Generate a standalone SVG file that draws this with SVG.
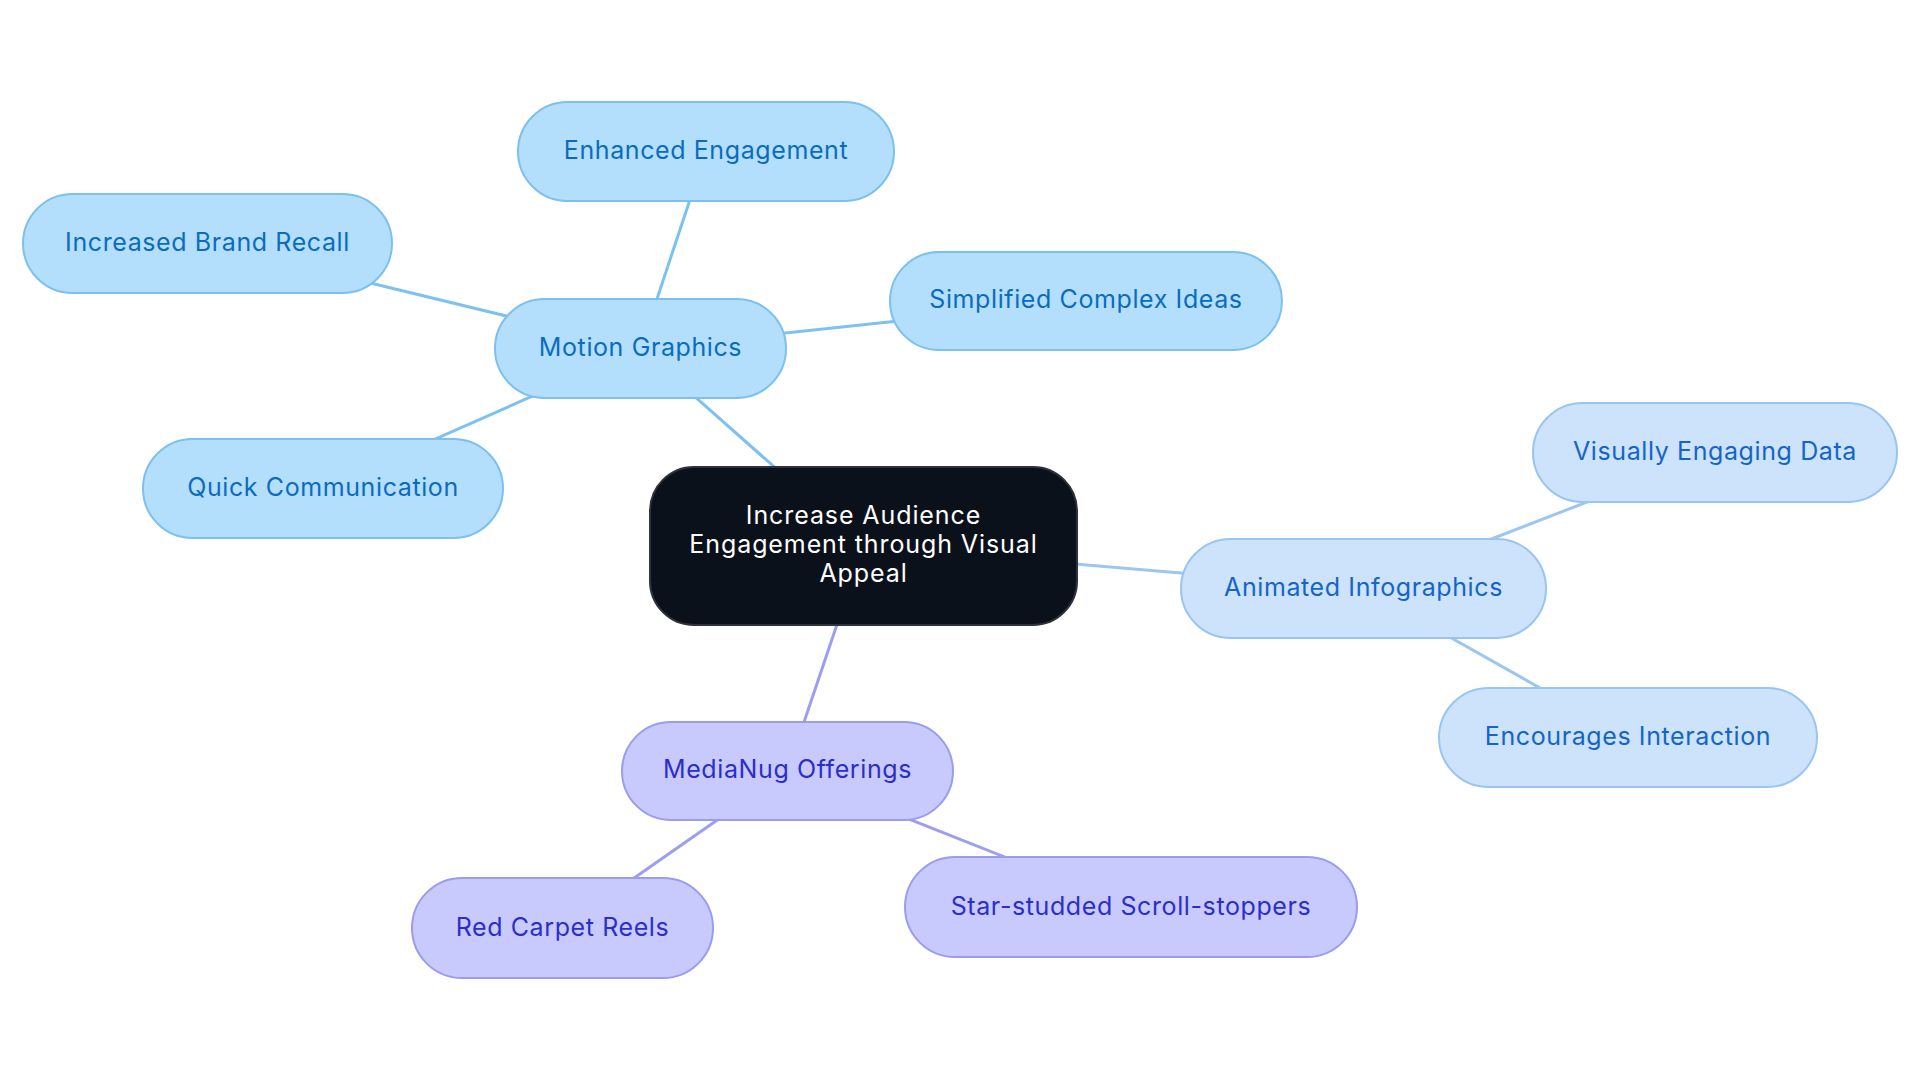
<svg xmlns="http://www.w3.org/2000/svg" width="1920" height="1083" viewBox="0 0 1920 1083">
  <style>
    text { font-family: Inter, "Noto Sans", "Liberation Sans", sans-serif; font-size: 25px; letter-spacing: 0.6px; text-anchor: middle; }
    .edge { stroke-width: 3; fill: none; stroke-linecap: round; }
    .e-mg { stroke: #7dc1ef; }
    .e-ai { stroke: #9cc6f2; }
    .e-mn { stroke: #9c9ff0; }
    .root rect { fill: #0b111b; stroke: #2e323a; stroke-width: 2; }
    .root text { fill: #ffffff; letter-spacing: 0.9px; }
    .mg rect { fill: #b3dffd; stroke: #7cc0ef; stroke-width: 2; }
    .mg text { fill: #0b6cbd; }
    .ai rect { fill: #cce3fb; stroke: #9ac4f2; stroke-width: 2; }
    .ai text { fill: #1565c7; }
    .mn rect { fill: #c8cafd; stroke: #999cef; stroke-width: 2; }
    .mn text { fill: #2c2ec9; }
  </style>

  <!-- connectors run centre to centre; nodes are painted over them -->
  <g id="connectors">
    <line class="edge e-mg" x1="863.5" y1="546" x2="640.5" y2="348.5"/>
    <line class="edge e-mg" x1="640.5" y1="348.5" x2="706" y2="151.5"/>
    <line class="edge e-mg" x1="640.5" y1="348.5" x2="207.5" y2="243.5"/>
    <line class="edge e-mg" x1="640.5" y1="348.5" x2="1086" y2="301"/>
    <line class="edge e-mg" x1="640.5" y1="348.5" x2="323" y2="488.5"/>
    <line class="edge e-ai" x1="863.5" y1="546" x2="1363.5" y2="588.5"/>
    <line class="edge e-ai" x1="1363.5" y1="588.5" x2="1715" y2="452.5"/>
    <line class="edge e-ai" x1="1363.5" y1="588.5" x2="1628" y2="737.5"/>
    <line class="edge e-mn" x1="863.5" y1="546" x2="787.5" y2="771"/>
    <line class="edge e-mn" x1="787.5" y1="771" x2="562.5" y2="928"/>
    <line class="edge e-mn" x1="787.5" y1="771" x2="1131" y2="907"/>
  </g>

  <g id="root" class="root">
    <rect x="650" y="467" width="427" height="158" rx="44"/>
    <text x="863.5" y="524">Increase Audience</text>
    <text x="863.5" y="553">Engagement through Visual</text>
    <text x="863.5" y="582">Appeal</text>
  </g>

  <g id="motion-graphics" class="mg">
    <rect x="495" y="299" width="291" height="99" rx="49.5"/>
    <text x="640.5" y="356">Motion Graphics</text>
  </g>
  <g id="enhanced-engagement" class="mg">
    <rect x="518" y="102" width="376" height="99" rx="49.5"/>
    <text x="706" y="159">Enhanced Engagement</text>
  </g>
  <g id="increased-brand-recall" class="mg">
    <rect x="23" y="194" width="369" height="99" rx="49.5"/>
    <text x="207.5" y="251">Increased Brand Recall</text>
  </g>
  <g id="simplified-complex-ideas" class="mg">
    <rect x="890" y="252" width="392" height="98" rx="49"/>
    <text x="1086" y="308">Simplified Complex Ideas</text>
  </g>
  <g id="quick-communication" class="mg">
    <rect x="143" y="439" width="360" height="99" rx="49.5"/>
    <text x="323" y="496">Quick Communication</text>
  </g>

  <g id="animated-infographics" class="ai">
    <rect x="1181" y="539" width="365" height="99" rx="49.5"/>
    <text x="1363.5" y="596">Animated Infographics</text>
  </g>
  <g id="visually-engaging-data" class="ai">
    <rect x="1533" y="403" width="364" height="99" rx="49.5"/>
    <text x="1715" y="460">Visually Engaging Data</text>
  </g>
  <g id="encourages-interaction" class="ai">
    <rect x="1439" y="688" width="378" height="99" rx="49.5"/>
    <text x="1628" y="745">Encourages Interaction</text>
  </g>

  <g id="medianug-offerings" class="mn">
    <rect x="622" y="722" width="331" height="98" rx="49"/>
    <text x="787.5" y="778">MediaNug Offerings</text>
  </g>
  <g id="red-carpet-reels" class="mn">
    <rect x="412" y="878" width="301" height="100" rx="50"/>
    <text x="562.5" y="936">Red Carpet Reels</text>
  </g>
  <g id="star-studded-scroll-stoppers" class="mn">
    <rect x="905" y="857" width="452" height="100" rx="50"/>
    <text x="1131" y="915">Star-studded Scroll-stoppers</text>
  </g>
</svg>
